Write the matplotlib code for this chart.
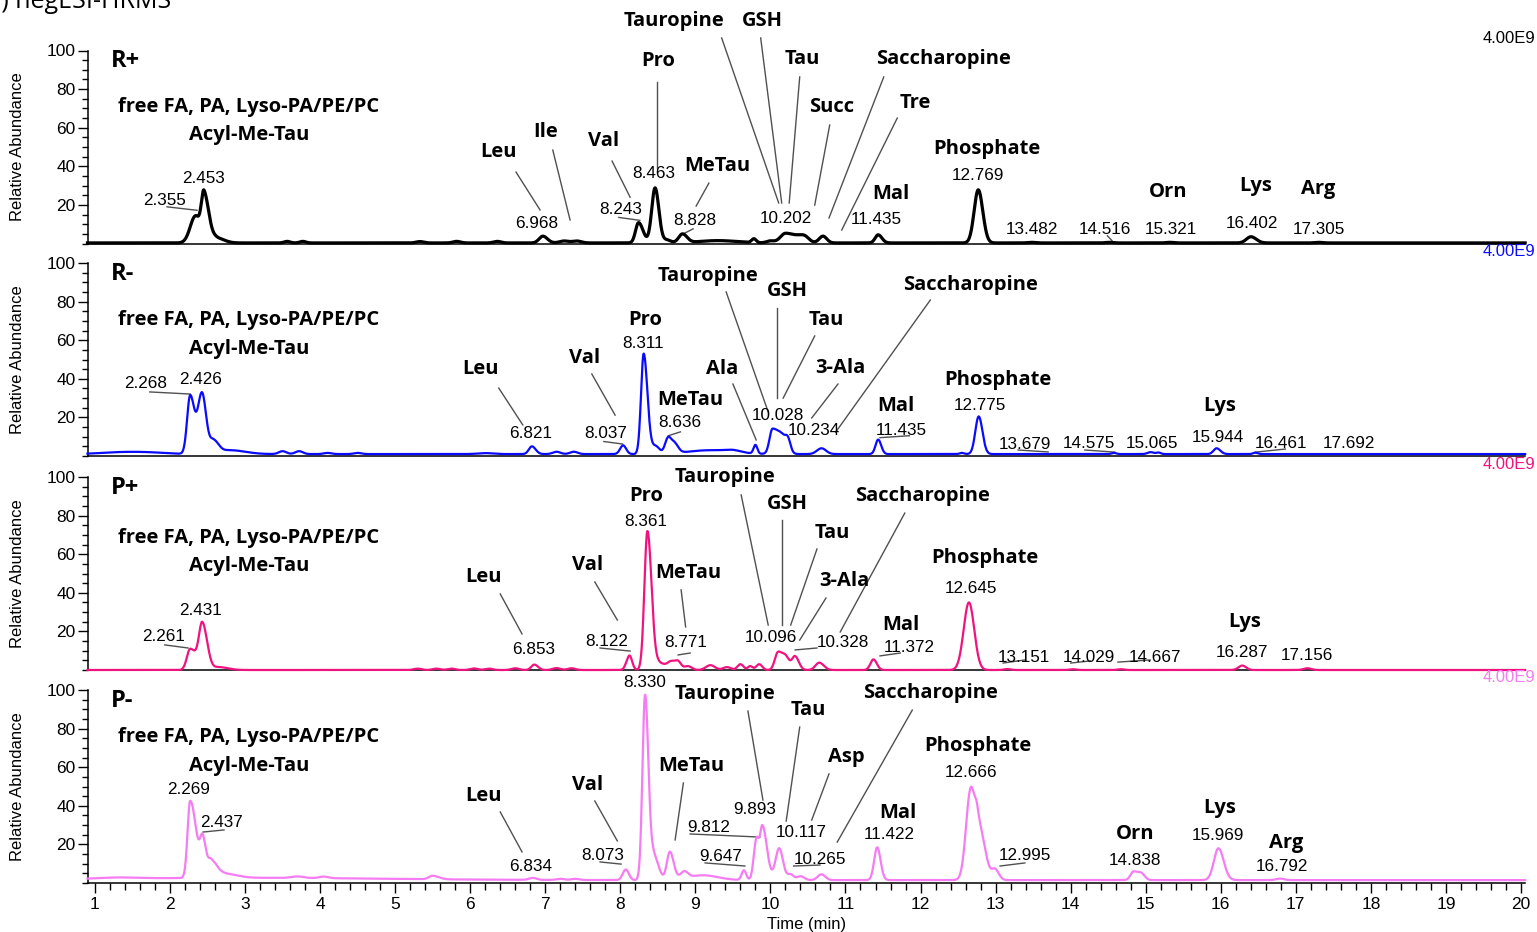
import numpy as np
import matplotlib
matplotlib.use("Agg")
import matplotlib.pyplot as plt
from matplotlib.ticker import MultipleLocator, FixedLocator

# ---------------------------------------------------------------------------
# Peak tables (retention time [min], relative abundance [%], left/right width)
# ---------------------------------------------------------------------------
# R+ (black)
rp_base = 0.3
rp_rt = [2.340, 2.453, 2.620, 3.560, 3.770, 5.330, 5.820, 6.360, 6.968, 7.250,
         7.420, 8.243, 8.463, 8.620, 8.828, 9.300, 9.780, 10.000, 10.202, 10.450,
         10.700, 11.435, 12.769, 13.482, 14.516, 15.321, 16.402, 17.305]
rp_h = [14.0, 25.0, 2.5, 0.8, 0.8, 0.7, 0.8, 0.8, 3.5, 1.0,
        1.0, 10.5, 28.5, 1.5, 4.5, 1.2, 2.0, 1.0, 5.0, 3.0,
        3.5, 4.2, 27.5, 0.3, 0.3, 0.3, 3.2, 0.3]
rp_wl = [0.07, 0.035, 0.05, 0.04, 0.04, 0.05, 0.05, 0.05, 0.05, 0.06,
         0.06, 0.04, 0.045, 0.05, 0.05, 0.25, 0.03, 0.05, 0.07, 0.08,
         0.05, 0.04, 0.055, 0.05, 0.05, 0.05, 0.06, 0.05]
rp_wr = [0.06, 0.065, 0.10, 0.04, 0.04, 0.05, 0.05, 0.05, 0.06, 0.06,
         0.06, 0.06, 0.05, 0.05, 0.06, 0.25, 0.03, 0.05, 0.14, 0.06,
         0.05, 0.05, 0.06, 0.05, 0.05, 0.05, 0.07, 0.05]

# R- (blue)
rm_base = 1.0
rm_rt = [1.300, 1.700, 2.268, 2.426, 2.580, 2.800, 3.500, 3.720, 4.100, 4.500,
         6.200, 6.821, 7.150, 7.380, 8.037, 8.311, 8.470, 8.636, 8.720, 9.200,
         9.500, 9.800, 10.028, 10.160, 10.234, 10.680, 11.435, 12.550, 12.775, 14.575,
         15.065, 15.170, 15.944, 16.461]
rm_h = [0.8, 0.8, 30.0, 31.5, 7.0, 2.0, 1.5, 1.5, 0.6, 0.6,
        0.5, 4.0, 1.2, 1.2, 4.5, 52.0, 4.0, 8.0, 5.0, 2.0,
        1.0, 4.5, 13.0, 4.5, 6.0, 3.0, 7.5, 0.6, 19.5, 0.6,
        1.0, 0.8, 3.0, 0.7]
rm_wl = [0.25, 0.25, 0.04, 0.055, 0.05, 0.10, 0.05, 0.05, 0.05, 0.05,
         0.10, 0.04, 0.05, 0.05, 0.04, 0.035, 0.05, 0.04, 0.04, 0.30,
         0.10, 0.025, 0.04, 0.05, 0.035, 0.06, 0.035, 0.03, 0.045, 0.03,
         0.04, 0.03, 0.04, 0.03]
rm_wr = [0.25, 0.25, 0.055, 0.055, 0.07, 0.20, 0.05, 0.05, 0.05, 0.05,
         0.10, 0.05, 0.05, 0.05, 0.04, 0.05, 0.05, 0.04, 0.05, 0.30,
         0.10, 0.025, 0.10, 0.05, 0.035, 0.06, 0.04, 0.03, 0.05, 0.03,
         0.04, 0.03, 0.05, 0.03]

# P+ (pink)
pp_base = 0.0
pp_rt = [2.270, 2.431, 2.650, 5.300, 5.550, 5.750, 6.050, 6.250, 6.600, 6.853,
         7.150, 7.350, 8.122, 8.361, 8.520, 8.680, 8.771, 8.900, 9.200, 9.420,
         9.600, 9.730, 9.850, 10.096, 10.200, 10.328, 10.650, 11.372, 12.645, 13.151,
         14.029, 14.667, 16.287, 17.156]
pp_h = [11.0, 23.5, 1.5, 0.7, 0.7, 0.7, 0.8, 0.7, 0.9, 2.8,
        1.0, 0.9, 7.5, 72.0, 3.5, 4.0, 4.0, 2.0, 2.5, 1.5,
        3.0, 2.0, 3.0, 8.5, 7.0, 7.0, 3.8, 5.5, 35.0, 0.5,
        0.4, 0.4, 2.3, 0.9]
pp_wl = [0.045, 0.045, 0.06, 0.05, 0.05, 0.05, 0.05, 0.05, 0.05, 0.04,
         0.05, 0.05, 0.04, 0.04, 0.05, 0.05, 0.04, 0.05, 0.06, 0.05,
         0.04, 0.03, 0.04, 0.04, 0.05, 0.04, 0.05, 0.04, 0.07, 0.04,
         0.04, 0.04, 0.05, 0.05]
pp_wr = [0.08, 0.065, 0.12, 0.05, 0.05, 0.05, 0.05, 0.05, 0.05, 0.05,
         0.05, 0.05, 0.035, 0.055, 0.08, 0.05, 0.04, 0.05, 0.06, 0.05,
         0.04, 0.03, 0.04, 0.05, 0.05, 0.05, 0.06, 0.045, 0.07, 0.04,
         0.04, 0.04, 0.05, 0.05]

# P- (violet)
pm_base = 1.5
pm_rt = [3.000, 1.300, 2.269, 2.437, 2.550, 2.750, 3.700, 4.050, 5.500, 6.834,
         7.200, 7.400, 8.073, 8.330, 8.450, 8.660, 8.850, 9.100, 9.647, 9.812,
         9.893, 10.117, 10.265, 10.400, 10.680, 11.422, 12.666, 12.760, 12.995, 14.838,
         14.950, 15.969, 16.792]
pm_h = [1.2, 0.6, 40.0, 18.0, 9.0, 2.0, 0.8, 0.8, 1.8, 1.0,
        0.6, 0.6, 5.5, 96.0, 12.0, 14.5, 3.5, 2.5, 5.0, 20.0,
        28.0, 16.5, 3.0, 2.0, 3.0, 17.0, 46.0, 30.0, 5.0, 4.5,
        2.0, 16.5, 0.8]
pm_wl = [1.8, 0.25, 0.035, 0.035, 0.04, 0.08, 0.08, 0.06, 0.05, 0.05,
         0.05, 0.05, 0.04, 0.035, 0.04, 0.04, 0.05, 0.20, 0.03, 0.035,
         0.035, 0.05, 0.04, 0.05, 0.05, 0.04, 0.06, 0.04, 0.04, 0.04,
         0.04, 0.06, 0.05]
pm_wr = [1.8, 0.25, 0.08, 0.045, 0.08, 0.15, 0.08, 0.06, 0.08, 0.05,
         0.05, 0.05, 0.04, 0.045, 0.06, 0.05, 0.05, 0.20, 0.03, 0.03,
         0.06, 0.05, 0.04, 0.05, 0.05, 0.045, 0.05, 0.09, 0.05, 0.08,
         0.04, 0.07, 0.05]

# ---------------------------------------------------------------------------
# Annotation layout: compound names, retention-time labels and leader lines
# (x in minutes, y in % of the panel scale)
# ---------------------------------------------------------------------------
LAYOUT = {
    "R+": dict(
        names=[("Leu", 6.37, 47.4), ("Ile", 7.01, 57.8), ("Val", 7.78, 53.1),
               ("Pro", 8.50, 94.6), ("MeTau", 9.29, 40.2), ("Tauropine", 8.71, 115.3),
               ("GSH", 9.89, 115.3), ("Tau", 10.43, 95.6), ("Succ", 10.82, 70.7),
               ("Saccharopine", 12.31, 95.6), ("Tre", 11.93, 72.8), ("Mal", 11.61, 25.6),
               ("Phosphate", 12.89, 49.0), ("Orn", 15.30, 26.7), ("Lys", 16.47, 29.8),
               ("Arg", 17.30, 28.2)],
        rts=[(2.355, 1.93, 22.5), (2.453, 2.44, 33.9), (6.968, 6.89, 10.6),
             (8.243, 8.01, 17.4), (8.463, 8.45, 36.5), (8.828, 8.99, 11.7),
             (10.202, 10.21, 13.2), (11.435, 11.41, 12.2), (12.769, 12.77, 35.0),
             (13.482, 13.48, 7.0), (14.516, 14.46, 7.0), (15.321, 15.34, 7.0),
             (16.402, 16.42, 10.6), (17.305, 17.31, 7.0)],
        leaders=[(1.96, 19.0, 2.36, 17.2), (6.61, 37.0, 6.93, 17.4), (7.10, 48.4, 7.33, 12.2),
                 (7.89, 42.7, 8.13, 24.0), (7.98, 13.5, 8.26, 12.0), (8.49, 83.7, 8.49, 39.0),
                 (9.18, 31.3, 9.01, 19.4), (8.84, 5.0, 8.97, 7.6),
                 (9.35, 106.5, 10.11, 21.0), (9.87, 106.5, 10.15, 21.0),
                 (10.39, 86.3, 10.25, 21.0), (10.79, 61.4, 10.59, 19.9),
                 (11.51, 86.3, 10.78, 13.2), (11.69, 65.0, 10.95, 7.0),
                 (14.49, 4.0, 14.55, 1.5)]),
    "R-": dict(
        names=[("Leu", 6.14, 45.1), ("Val", 7.52, 50.8), ("Pro", 8.33, 70.5),
               ("MeTau", 8.93, 29.0), ("Ala", 9.35, 45.1), ("Tauropine", 9.17, 93.3),
               ("GSH", 10.23, 85.5), ("Tau", 10.75, 70.5), ("3-Ala", 10.93, 45.6),
               ("Saccharopine", 12.67, 88.6), ("Mal", 11.67, 25.9),
               ("Phosphate", 13.03, 39.4), ("Lys", 15.99, 25.9)],
        rts=[(2.268, 1.68, 37.8), (2.426, 2.41, 39.4), (6.821, 6.80, 11.9),
             (8.037, 7.81, 11.9), (8.311, 8.30, 58.5), (8.636, 8.79, 17.1),
             (10.028, 10.10, 21.2), (10.234, 10.58, 13.0), (11.435, 11.74, 13.0),
             (12.775, 12.79, 26.4), (13.679, 13.39, 6.2), (14.575, 14.24, 6.7),
             (15.065, 15.08, 6.7), (15.944, 15.96, 9.8), (16.461, 16.80, 6.7),
             (17.692, 17.71, 6.7)],
        leaders=[(1.73, 33.2, 2.27, 32.1), (6.38, 35.2, 6.70, 16.1), (7.62, 42.5, 7.93, 21.2),
                 (7.78, 7.5, 8.03, 6.2), (8.64, 10.5, 8.80, 12.5), (9.50, 37.3, 9.81, 8.3),
                 (9.41, 85.0, 9.97, 22.8), (10.09, 76.7, 10.09, 30.0),
                 (10.59, 62.2, 10.17, 30.0), (10.90, 37.3, 10.55, 19.7),
                 (12.13, 80.8, 10.87, 12.4), (11.46, 9.5, 11.85, 10.5),
                 (13.30, 3.1, 13.70, 2.1), (14.19, 3.1, 14.59, 2.0), (16.46, 2.0, 16.86, 3.6)]),
    "P+": dict(
        names=[("Leu", 6.18, 48.2), ("Val", 7.56, 54.4), ("Pro", 8.34, 90.2),
               ("MeTau", 8.90, 50.3), ("Tauropine", 9.39, 100.0), ("GSH", 10.23, 86.0),
               ("Tau", 10.83, 71.0), ("3-Ala", 10.99, 46.1), ("Saccharopine", 12.03, 90.2),
               ("Mal", 11.74, 23.3), ("Phosphate", 12.86, 58.0), ("Lys", 16.32, 24.9)],
        rts=[(2.261, 1.91, 17.6), (2.431, 2.41, 30.6), (6.853, 6.84, 10.4),
             (8.122, 7.82, 15.0), (8.361, 8.34, 77.2), (8.771, 8.87, 14.0),
             (10.096, 10.01, 16.6), (10.328, 10.97, 14.5), (11.372, 11.85, 11.9),
             (12.645, 12.67, 42.0), (13.151, 13.38, 6.7), (14.029, 14.24, 6.7),
             (14.667, 15.12, 6.7), (16.287, 16.28, 9.3), (17.156, 17.15, 7.3)],
        leaders=[(1.93, 13.0, 2.24, 11.4), (6.40, 39.4, 6.69, 18.7), (7.66, 45.6, 7.96, 25.9),
                 (7.73, 11.4, 8.13, 9.8), (8.81, 41.5, 8.87, 22.3), (8.77, 7.8, 8.93, 8.8),
                 (9.61, 90.7, 9.97, 23.3), (10.15, 77.7, 10.15, 23.3),
                 (10.62, 62.7, 10.27, 23.3), (10.74, 37.3, 10.39, 15.5),
                 (10.33, 10.4, 10.62, 11.4), (11.79, 81.3, 10.93, 19.7),
                 (11.46, 7.3, 11.73, 8.8), (13.10, 3.6, 13.39, 5.2),
                 (14.00, 3.6, 14.26, 4.7), (14.63, 4.1, 15.06, 5.2)]),
    "P-": dict(
        names=[("Leu", 6.18, 45.1), ("Val", 7.56, 50.8), ("MeTau", 8.95, 60.6),
               ("Tauropine", 9.39, 97.9), ("Tau", 10.51, 89.6), ("Asp", 11.01, 65.3),
               ("Saccharopine", 12.13, 98.4), ("Mal", 11.70, 36.3),
               ("Phosphate", 12.77, 71.0), ("Orn", 14.86, 25.4), ("Lys", 15.99, 38.9),
               ("Arg", 16.87, 20.7)],
        rts=[(2.269, 2.25, 48.2), (2.437, 2.69, 31.1), (6.834, 6.81, 8.8),
             (8.073, 7.77, 14.0), (8.330, 8.32, 104.1), (9.647, 9.34, 13.5),
             (9.812, 9.18, 28.5), (9.893, 9.79, 38.3), (10.117, 10.41, 26.4),
             (10.265, 10.66, 12.4), (11.422, 11.58, 24.9), (12.666, 12.67, 57.0),
             (12.995, 13.39, 14.0), (14.838, 14.86, 11.9), (15.969, 15.96, 24.4),
             (16.792, 16.82, 8.3)],
        leaders=[(2.44, 26.4, 2.72, 27.5), (6.40, 36.8, 6.69, 16.1), (7.66, 42.5, 7.96, 21.8),
                 (7.73, 10.9, 8.01, 9.8), (8.84, 51.8, 8.73, 22.3), (8.93, 25.4, 9.86, 23.8),
                 (9.13, 10.4, 9.66, 8.8), (9.70, 89.1, 9.90, 43.0),
                 (10.39, 80.8, 10.21, 32.1), (10.78, 56.5, 10.55, 32.6),
                 (11.89, 89.6, 10.89, 21.2), (10.31, 8.8, 10.66, 9.3),
                 (13.06, 8.8, 13.39, 10.4)]),
}

PANELS = [
    ("R+", "black", 2.3, (rp_rt, rp_h, rp_wl, rp_wr, rp_base)),
    ("R-", "#0a0aff", 1.6, (rm_rt, rm_h, rm_wl, rm_wr, rm_base)),
    ("P+", "#f0137f", 1.6, (pp_rt, pp_h, pp_wl, pp_wr, pp_base)),
    ("P-", "#f57cf2", 1.6, (pm_rt, pm_h, pm_wl, pm_wr, pm_base)),
]

SCALE_LABEL = "4.00E9"
LEFT_TEXT = ["free FA, PA, Lyso-PA/PE/PC", "Acyl-Me-Tau"]

NUM_FONT = "Liberation Sans"
NAME_FONT = "Open Sans"


def chromatogram(t, rt, h, wl, wr, base):
    y = np.full_like(t, base)
    for r, a, sl, sr in zip(rt, h, wl, wr):
        s = np.where(t < r, sl, sr)
        y += a * np.exp(-0.5 * ((t - r) / s) ** 2)
    return y


W, H = 1537, 932
fig = plt.figure(figsize=(W / 100, H / 100), dpi=100)

t = np.arange(0.9, 20.06, 0.004)
x0, x1 = 0.907, 20.054
left, width = 88 / W, 1437 / W
bottoms_px = [243.5, 456.0, 670.0, 883.0]
height = 193 / H

for i, (key, color, lw, (rt, h, wl, wr, base)) in enumerate(PANELS):
    ax = fig.add_axes([left, (H - bottoms_px[i]) / H, width, height])
    y = chromatogram(t, rt, h, wl, wr, base)
    ax.plot(t, y, color=color, lw=lw, clip_on=False, zorder=3,
            solid_joinstyle="round")
    ax.set_xlim(x0, x1)
    ax.set_ylim(0, 100)

    for s in ("top", "right"):
        ax.spines[s].set_visible(False)
    for s in ("left", "bottom"):
        ax.spines[s].set_linewidth(1.1)

    ax.yaxis.set_major_locator(FixedLocator([20, 40, 60, 80, 100]))
    ax.yaxis.set_minor_locator(MultipleLocator(5))
    ax.tick_params(axis="y", which="major", direction="out", length=7, width=1.0,
                   pad=2, labelsize=12.5)
    ax.tick_params(axis="y", which="minor", direction="out", length=4, width=1.0)
    for lab in ax.get_yticklabels():
        lab.set_fontfamily(NUM_FONT)

    if i < 3:
        ax.tick_params(axis="x", which="both", bottom=False, labelbottom=False)
    else:
        ax.xaxis.set_major_locator(MultipleLocator(1))
        ax.xaxis.set_minor_locator(MultipleLocator(0.2))
        ax.tick_params(axis="x", which="major", direction="out", length=7, width=1.0,
                       pad=3, labelsize=12.5)
        ax.tick_params(axis="x", which="minor", direction="out", length=5, width=1.0)
        for lab in ax.get_xticklabels():
            lab.set_fontfamily(NUM_FONT)
        ax.set_xlabel("Time (min)", fontsize=12, fontfamily=NUM_FONT, labelpad=4)

    # panel tag and lipid class text
    ax.text(1.213, 94.5, key, fontsize=17, fontweight="bold", fontfamily=NAME_FONT,
            ha="left", va="center", clip_on=False)
    lay = LAYOUT[key]
    ys = {"R+": (70.7, 56.2), "R-": (70.5, 55.4), "P+": (68.4, 53.9), "P-": (75.6, 60.6)}[key]
    for txt, yy in zip(LEFT_TEXT, ys):
        ax.text(3.05, yy, txt, fontsize=14.5, fontweight="bold", fontfamily=NAME_FONT,
                ha="center", va="center", clip_on=False)

    for (xa, ya, xb, yb) in lay["leaders"]:
        ax.plot([xa, xb], [ya, yb], color="#505050", lw=1.0, clip_on=False, zorder=2)
    for name, xx, yy in lay["names"]:
        ax.text(xx, yy, name, fontsize=14.5, fontweight="bold", fontfamily=NAME_FONT,
                ha="center", va="center", clip_on=False, zorder=4)
    for r, xx, yy in lay["rts"]:
        ax.text(xx, yy, f"{r:.3f}", fontsize=12.3, fontfamily=NUM_FONT,
                ha="center", va="center", clip_on=False, zorder=4)

    # intensity scale in the top right corner
    top_px = bottoms_px[i] - 193
    fig.text(1535 / W, 1 - (top_px - 12) / H, SCALE_LABEL, color=color,
             fontsize=12, fontfamily=NUM_FONT, ha="right", va="center")

    # y label
    fig.text(18 / W, 1 - (bottoms_px[i] - 96.5) / H, "Relative Abundance",
             rotation=90, fontsize=12, fontfamily=NUM_FONT, ha="center", va="center")

fig.text(-14 / W, 1 - 8 / H, "b) negESI-HRMS", fontsize=18, fontfamily=NAME_FONT,
         ha="left", va="baseline")

fig.savefig("out.png", dpi=100)
